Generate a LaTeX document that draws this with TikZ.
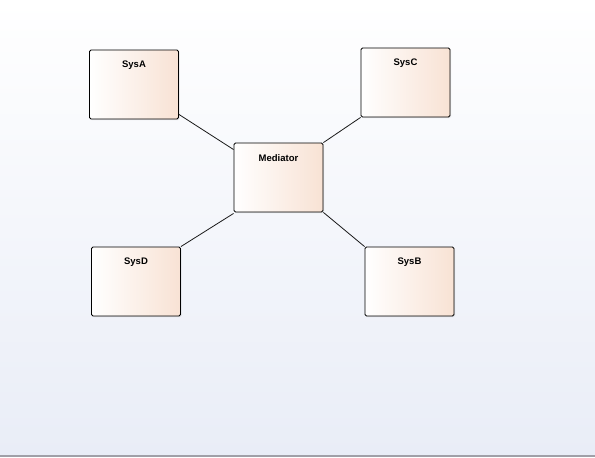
\documentclass[tikz,border=0pt]{standalone}
\usepackage{fontspec}
\setmainfont{Liberation Sans}
\usetikzlibrary{shadows}
\definecolor{bgbottom}{RGB}{233,237,247}
\definecolor{boxpeach}{RGB}{248,226,212}
\definecolor{rulegray}{RGB}{160,160,168}
\tikzset{
  sysbox/.style={draw=black, line width=0.9pt, rounded corners=1.5pt, minimum width=89pt,
    minimum height=69pt, left color=white, right color=boxpeach, inner sep=0pt,
    drop shadow={opacity=0.18, shadow xshift=1pt, shadow yshift=-1pt}},
  lbl/.style={anchor=north, inner sep=0pt, yshift=-11.5pt,
    font=\fontsize{9.5}{11}\selectfont\bfseries},
  link/.style={draw=black!90, line width=0.8pt}
}
\begin{document}
\begin{tikzpicture}[x=1pt, y=-1pt]
  % background
  \fill[top color=white, bottom color=bgbottom, middle color={rgb,255:red,244;green,246;blue,251}]
    (0,0) rectangle (595,455);
  \fill[white] (0,457) rectangle (595,458);
  \fill[rulegray] (0,455) rectangle (595,457);
  \useasboundingbox (0,0) rectangle (595,458);

  % systems
  \node[sysbox, label={[lbl]north:SysA}] (sysA) at (134,84.5) {};
  \node[sysbox, label={[lbl]north:SysC}] (sysC) at (405.5,82.5) {};
  \node[sysbox, label={[lbl]north:Mediator}] (med) at (278.5,177.5) {};
  \node[sysbox, label={[lbl]north:SysD}] (sysD) at (136,281.5) {};
  \node[sysbox, label={[lbl]north:SysB}] (sysB) at (409.5,281.5) {};

  % connectors
  \draw[link] ([yshift=5pt]sysA.south east) -- ([yshift=-7pt]med.north west);
  \draw[link] (med.north east) -- (sysC.south west);
  \draw[link] (sysD.north east) -- ([yshift=-1pt]med.south west);
  \draw[link] (sysB.north west) -- (med.south east);
\end{tikzpicture}
\end{document}
